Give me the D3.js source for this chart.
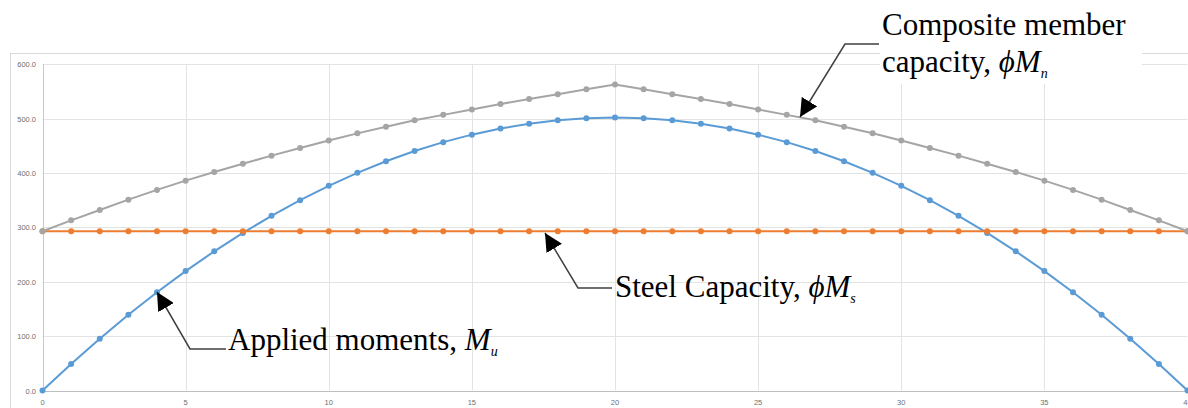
<!DOCTYPE html>
<html><head><meta charset="utf-8">
<script src="https://cdn.jsdelivr.net/npm/d3@7"></script>
<style>html,body{margin:0;padding:0;background:#fff;overflow:hidden}</style>
</head><body>
<svg id="chart" width="1188" height="408"></svg>
<script>
const positions = [0,1,2,3,4,5,6,7,8,9,10,11,12,13,14,15,16,17,18,19,20,21,22,23,24,25,26,27,28,29,30,31,32,33,34,35,36,37,38,39,40];
const appliedMoments = [0,48.9,95.4,139.3,180.7,219.6,256.0,289.9,321.3,350.1,376.5,400.3,421.7,440.5,456.8,470.6,481.9,490.7,497.0,500.7,502.0,
  500.7,497.0,490.7,481.9,470.6,456.8,440.5,421.7,400.3,376.5,350.1,321.3,289.9,256.0,219.6,180.7,139.3,95.4,48.9,0];
const steelCapacity = [293,293,293,293,293,293,293,293,293,293,293,293,293,293,293,293,293,293,293,293,293,
  293,293,293,293,293,293,293,293,293,293,293,293,293,293,293,293,293,293,293,293];
const compositeCapacity = [293,313,332,351,369,386,402,417,432,446,460,473,485,497,507,517,527,536,545,554,563,
  554,545,536,527,517,507,497,485,473,460,446,432,417,402,386,369,351,332,313,293];
const yTicks = [0,100,200,300,400,500,600];
const xTicks = [0,5,10,15,20,25,30,35,40];

const svg = d3.select("#chart");
const x = d3.scaleLinear().domain([0,40]).range([42.5,1187.5]);
const y = d3.scaleLinear().domain([0,600]).range([390.5,64.3]);

// outer chart border
svg.append("rect").attr("x",10.5).attr("y",53.5).attr("width",1200).attr("height",400)
  .attr("fill","none").attr("stroke","#d9d9d9");

// gridlines
svg.append("g").selectAll("line").data(yTicks.filter(d=>d>0)).join("line")
  .attr("x1",x(0)).attr("x2",x(40)).attr("y1",d=>Math.round(y(d))+0.5).attr("y2",d=>Math.round(y(d))+0.5)
  .attr("stroke","#e3e3e3").attr("stroke-width",1);
svg.append("g").selectAll("line").data(xTicks).join("line")
  .attr("y1",y(0)).attr("y2",y(600)).attr("x1",d=>Math.round(x(d))+0.5).attr("x2",d=>Math.round(x(d))+0.5)
  .attr("stroke",d=>d===0?"#c8c8c8":"#e3e3e3").attr("stroke-width",1);
// x axis line
svg.append("line").attr("x1",x(0)).attr("x2",x(40)).attr("y1",Math.round(y(0))+0.5).attr("y2",Math.round(y(0))+0.5)
  .attr("stroke","#bfbfbf");

// tick labels
svg.append("g").selectAll("text").data(yTicks).join("text")
  .attr("x",36).attr("y",d=>y(d)+3).attr("text-anchor","end")
  .attr("font-family","Liberation Sans, Arial, sans-serif").attr("font-size",7.5).attr("fill","#6f6f6f")
  .text(d=>d3.format(".1f")(d));
svg.append("g").selectAll("text").data(xTicks).join("text")
  .attr("x",d=>x(d)).attr("y",405).attr("text-anchor","middle")
  .attr("font-family","Liberation Sans, Arial, sans-serif").attr("font-size",7.5).attr("fill","#6f6f6f")
  .text(d=>d);

// series
const series = [
  {values: appliedMoments, color:"#5B9BD5"},
  {values: steelCapacity, color:"#ED7D31"},
  {values: compositeCapacity, color:"#A5A5A5"}
];
const line = d3.line().x((d,i)=>x(positions[i])).y(d=>y(d));
series.forEach(s=>{
  const g = svg.append("g");
  g.append("path").attr("d",line(s.values)).attr("fill","none").attr("stroke",s.color).attr("stroke-width",2);
  g.selectAll("circle").data(s.values).join("circle")
    .attr("cx",(d,i)=>x(positions[i])).attr("cy",d=>y(d)).attr("r",3).attr("fill",s.color);
});

// annotations
svg.append("defs").append("marker").attr("id","ah").attr("viewBox","0 0 10 10")
  .attr("refX",10).attr("refY",5).attr("markerWidth",18).attr("markerHeight",18)
  .attr("markerUnits","userSpaceOnUse").attr("orient","auto")
  .append("path").attr("d","M0,0 L10,5 L0,10 z").attr("fill","#000");

svg.append("rect").attr("x",880).attr("y",0).attr("width",262).attr("height",84).attr("fill","#fff");

function leader(pts){
  svg.append("polyline").attr("points",pts.map(p=>p.join(",")).join(" "))
    .attr("fill","none").attr("stroke","#404040").attr("stroke-width",1.5).attr("marker-end","url(#ah)");
}
leader([[879,44],[845,44],[800,117]]);
leader([[612,288],[578,288],[545,233]]);
leader([[226,349],[190,349],[157,292]]);

function label(xp,yp,plain,sym,sub){
  const t = svg.append("text").attr("x",xp).attr("y",yp)
    .attr("font-family","Liberation Serif, Times New Roman, serif").attr("font-size",31).attr("fill","#000");
  t.append("tspan").text(plain);
  if(sym){
    t.append("tspan").attr("font-style","italic").text(sym);
    t.append("tspan").attr("font-style","italic").attr("font-size",14).attr("dy",6).text(sub);
  }
  return t;
}
label(882,35,"Composite member");
label(882,72,"capacity, ","\u03D5M","n");
label(615,297,"Steel Capacity, ","\u03D5M","s");
label(228,350,"Applied moments, ","M","u");
</script>
</body></html>
